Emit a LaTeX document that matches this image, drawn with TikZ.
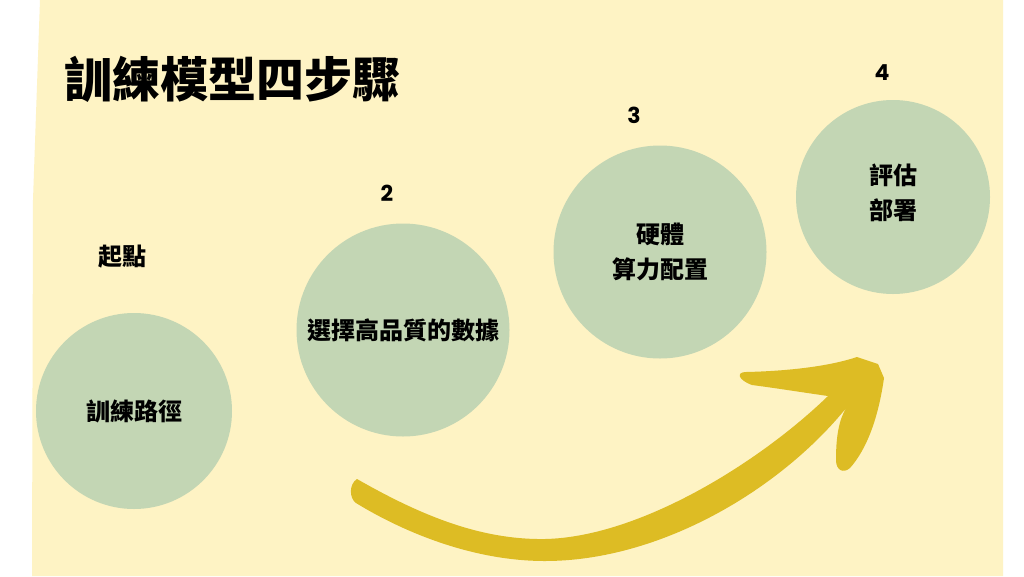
\documentclass[tikz,border=0pt]{standalone}
\usepackage{fontspec}
\newfontfamily\cjk{Noto Sans CJK TC}
\newfontfamily\numfont{Poppins}
\definecolor{Bg}{HTML}{FEF3C4}
\definecolor{Step}{HTML}{C3D6B4}
\definecolor{Arrow}{HTML}{DDBC24}

\begin{document}
\begin{tikzpicture}[x=1pt, y=-1pt,
    stepnode/.style={shape=circle, fill=Step, inner sep=0pt, align=center,
      font=\cjk\bfseries\fontsize{24}{35}\selectfont},
    numlabel/.style={font=\numfont\bfseries\fontsize{22}{22}\selectfont},
    textlabel/.style={font=\cjk\bfseries\fontsize{24}{24}\selectfont}]
    \useasboundingbox (0,0) rectangle (1024,576);
    \fill[white] (0,0) rectangle (1024,576);
    \fill[Bg] (40,0) -- (33,200) -- (32,576) -- (1003,576) -- (1003,0) -- cycle;

    \node at (232,79) (title) [font=\cjk\bfseries\fontsize{48}{48}\selectfont] {訓練模型四步驟};

    \node at (134,411) (S1) [stepnode, minimum size=196pt] {訓練路徑};
    \node at (403,330) (S2) [stepnode, minimum size=213pt] {選擇高品質的數據};
    \node at (660,252) (S3) [stepnode, minimum size=213pt] {硬體\\算力配置};
    \node at (893,197) (S4) [stepnode, minimum size=194pt] {評估\\部署\\[-25pt]};

    \node at (122,257) (start) [textlabel] {起點};
    \node at (387,193) (n2) [numlabel] {2};
    \node at (634,115) (n3) [numlabel] {3};
    \node at (882,73) (n4) [numlabel] {4};

    % brush arrow
    \fill[Arrow] (357,479) .. controls (420,515) and (480,540) .. (545,539)
      .. controls (640,537) and (760,462) .. (828,396)
      .. controls (800,392) and (775,388) .. (752,385)
      .. controls (738,380) and (736,372) .. (746,372)
      .. controls (790,371) and (830,366) .. (857,357)
      -- (878,364) -- (884,378)
      .. controls (878,420) and (866,450) .. (850,468)
      .. controls (843,474) and (836,470) .. (836,460)
      .. controls (836,440) and (838,420) .. (847,407)
      .. controls (780,490) and (660,561) .. (545,561)
      .. controls (470,561) and (400,530) .. (356,503)
      .. controls (349,498) and (349,484) .. (357,479) -- cycle;
\end{tikzpicture}
\end{document}
